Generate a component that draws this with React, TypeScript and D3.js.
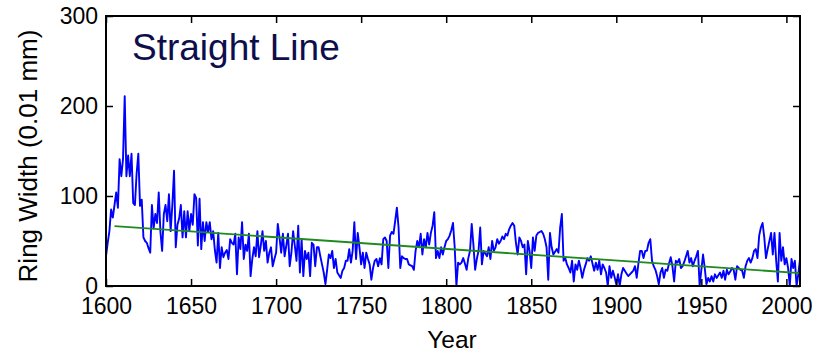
import { useEffect, useRef } from "react";
import * as d3 from "d3";

// annual ring widths (0.01 mm), first value is 1600
const firstYear = 1600;
const ringWidth1600s = [
  33, 48, 61, 85, 76, 90, 104, 87, 141, 122,
  141, 211, 122, 145, 122, 147, 92, 90, 125, 147,
  89, 96, 54, 50, 48, 42, 37, 90, 64, 80,
  70, 104, 60, 39, 80, 90, 72, 102, 61, 90,
  128, 43, 68, 75, 90, 54, 83, 54, 83, 61,
  80, 68, 102, 98, 45, 97, 41, 71, 50, 71,
  60, 71, 52, 61, 40, 26, 59, 20, 43, 32,
  37, 40, 30, 52, 48, 46, 58, 13, 54, 41,
  71, 30, 46, 39, 58, 11, 30, 43, 33, 61,
  32, 45, 61, 39, 50, 26, 37, 43, 22, 30,
];
const ringWidth1700s = [
  37, 69, 54, 37, 58, 33, 45, 58, 22, 37,
  61, 45, 28, 67, 15, 52, 11, 39, 30, 37,
  11, 48, 46, 22, 43, 43, 33, 24, 15, 2,
  18, 35, 31, 39, 20, 30, 15, 12, 9, 17,
  20, 28, 28, 41, 26, 39, 71, 30, 59, 43,
  24, 37, 20, 37, 30, 24, 7, 20, 28, 30,
  22, 31, 24, 52, 54, 50, 20, 56, 60, 58,
  72, 87, 65, 20, 33, 31, 30, 30, 24, 23,
  22, 18, 39, 50, 43, 58, 35, 52, 43, 59,
  46, 59, 67, 82, 31, 39, 31, 43, 35, 43,
];
const ringWidth1800s = [
  50, 52, 56, 62, 70, 43, 0, 26, 24, 26,
  31, 25, 18, 31, 39, 69, 46, 18, 30, 39,
  65, 24, 39, 36, 33, 43, 30, 50, 39, 43,
  52, 47, 50, 55, 52, 58, 56, 63, 67, 70,
  67, 48, 35, 54, 50, 43, 46, 13, 50, 39,
  20, 54, 39, 56, 59, 60, 61, 58, 52, 43,
  7, 59, 43, 35, 38, 41, 37, 65, 80, 28,
  31, 24, 20, 15, 28, 5, 24, 18, 28, 20,
  9, 18, 24, 31, 28, 33, 25, 17, 26, 18,
  28, 13, 24, 20, 15, 0, 22, 9, 17, 10,
];
const ringWidth1900s = [
  2, 13, 0, 13, 20, 17, 14, 11, 13, 15,
  17, 22, 9, 25, 39, 39, 31, 39, 39, 48,
  52, 28, 22, 18, 11, 2, 15, 20, 9, 18,
  17, 25, 32, 22, 5, 28, 26, 30, 20, 22,
  27, 33, 39, 26, 31, 22, 28, 33, 39, 0,
  18, 35, 20, 2, 9, 5, 11, 5, 13, 9,
  12, 15, 9, 17, 7, 18, 13, 16, 20, 18,
  7, 22, 20, 18, 17, 9, 22, 28, 31, 26,
  31, 39, 41, 31, 56, 65, 70, 54, 31, 41,
  50, 59, 35, 59, 28, 5, 59, 28, 43, 24,
];
const ringWidth2000s = [31, 20, 0, 30, 20, 28, 0, 13, 30];

// straight-line fit, end points
const fitYears = [1605, 2008];
const fitValues = [66.5, 14.3];

const xTicks = [1600, 1650, 1700, 1750, 1800, 1850, 1900, 1950, 2000];
const yTicks = [0, 100, 200, 300];

export default function App() {
  const svgRef = useRef(null);

  useEffect(() => {
    const width = 815;
    const height = 353;
    const margin = { top: 16, right: 15, bottom: 67, left: 106 };
    const font = "'Liberation Sans', Arial, Helvetica, sans-serif";

    const svg = d3.select(svgRef.current);
    svg.selectAll("*").remove();

    const widths = [
      ...ringWidth1600s,
      ...ringWidth1700s,
      ...ringWidth1800s,
      ...ringWidth1900s,
      ...ringWidth2000s,
    ];
    const series = widths.map((v, i) => ({ year: firstYear + i, value: v }));
    const fit = fitYears.map((yr, i) => ({ year: yr, value: fitValues[i] }));

    const x = d3
      .scaleLinear()
      .domain([1600, 2008])
      .range([margin.left, width - margin.right]);
    const y = d3
      .scaleLinear()
      .domain([0, 300])
      .range([height - margin.bottom, margin.top]);

    svg
      .append("defs")
      .append("clipPath")
      .attr("id", "plot-clip")
      .append("rect")
      .attr("x", margin.left)
      .attr("y", margin.top)
      .attr("width", width - margin.left - margin.right)
      .attr("height", height - margin.top - margin.bottom);

    const line = d3
      .line()
      .x((d) => x(d.year))
      .y((d) => y(d.value));

    const plot = svg.append("g").attr("clip-path", "url(#plot-clip)");
    plot
      .append("path")
      .datum(series)
      .attr("d", line)
      .attr("fill", "none")
      .attr("stroke", "#0000ff")
      .attr("stroke-width", 1.9)
      .attr("stroke-linejoin", "round");
    plot
      .append("path")
      .datum(fit)
      .attr("d", line)
      .attr("fill", "none")
      .attr("stroke", "#1f8a1f")
      .attr("stroke-width", 1.9);

    const styleAxis = (g) => {
      g.select(".domain").remove();
      g.selectAll(".tick line").attr("stroke", "#000").attr("stroke-width", 1.5);
      g.selectAll(".tick text").attr("fill", "#000").style("font-family", font).style("font-size", "23px");
    };

    svg
      .append("g")
      .attr("transform", `translate(0,${height - margin.bottom})`)
      .call(d3.axisBottom(x).tickValues(xTicks).tickFormat(d3.format("d")).tickSizeInner(-7).tickSizeOuter(0).tickPadding(12))
      .call(styleAxis);
    svg
      .append("g")
      .attr("transform", `translate(0,${margin.top})`)
      .call(d3.axisTop(x).tickValues(xTicks).tickFormat(() => "").tickSizeInner(-7).tickSizeOuter(0))
      .call(styleAxis);
    svg
      .append("g")
      .attr("transform", `translate(${margin.left},0)`)
      .call(d3.axisLeft(y).tickValues(yTicks).tickSizeInner(-7).tickSizeOuter(0).tickPadding(8))
      .call(styleAxis)
      .call((g) => g.selectAll(".tick text").attr("dy", "0.33em"));
    svg
      .append("g")
      .attr("transform", `translate(${width - margin.right},0)`)
      .call(d3.axisRight(y).tickValues(yTicks).tickFormat(() => "").tickSizeInner(-7).tickSizeOuter(0))
      .call(styleAxis);

    // axes box
    svg
      .append("rect")
      .attr("x", margin.left)
      .attr("y", margin.top)
      .attr("width", width - margin.left - margin.right)
      .attr("height", height - margin.top - margin.bottom)
      .attr("fill", "none")
      .attr("stroke", "#000")
      .attr("stroke-width", 2);

    svg
      .append("text")
      .attr("x", 132)
      .attr("y", 60)
      .attr("fill", "#0e0e4c")
      .style("font-family", font)
      .style("font-size", "37px")
      .text("Straight Line");

    svg
      .append("text")
      .attr("x", (margin.left + width - margin.right) / 2 - 1)
      .attr("y", 348)
      .attr("text-anchor", "middle")
      .attr("fill", "#000")
      .style("font-family", font)
      .style("font-size", "24.5px")
      .text("Year");

    svg
      .append("text")
      .attr("transform", "translate(36.5,156) rotate(-90)")
      .attr("text-anchor", "middle")
      .attr("fill", "#000")
      .style("font-family", font)
      .style("font-size", "26px")
      .text("Ring Width (0.01 mm)");
  }, []);

  return (
    <svg
      ref={svgRef}
      width={815}
      height={353}
      style={{ position: "absolute", left: 0, top: 0, background: "#fff" }}
    />
  );
}
